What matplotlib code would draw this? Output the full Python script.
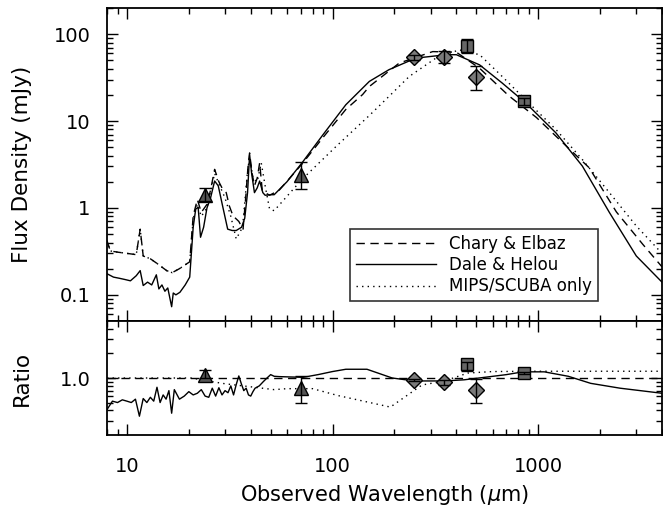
import numpy as np
import matplotlib
matplotlib.use("Agg")
import matplotlib.pyplot as plt
from matplotlib.ticker import FixedLocator, FuncFormatter, LogLocator, NullFormatter

plt.rcParams['font.family'] = ['DejaVu Sans']

# --- model SEDs (flux density, mJy) ---
lam_dh = [8, 8.6, 9.2, 9.8, 10.4, 11.1, 11.6, 12.0, 12.6, 13.2, 13.9, 14.3, 14.8, 15.3, 15.8,
          16.2, 16.5, 16.8, 17.3, 18.1, 19.2, 20.2, 21.0, 21.6, 22.2, 22.8, 23.6, 24.5, 25.5,
          26.7, 27.8, 29.2, 30.9, 32.5, 34, 36.1, 37.4, 38.6, 39.5, 40.4, 41.7, 43, 44.2, 45.8,
          47, 50, 52, 60, 71, 90, 116, 151, 188, 254, 357, 400, 519, 668, 871, 1220, 1640,
          2220, 3000, 4000]
f_dh = [0.175, 0.16, 0.155, 0.15, 0.145, 0.166, 0.19, 0.128, 0.14, 0.13, 0.17, 0.117, 0.13,
        0.11, 0.12, 0.09, 0.073, 0.105, 0.1, 0.107, 0.13, 0.16, 0.6, 0.97, 1.02, 0.46, 0.6,
        1.0, 1.3, 2.04, 1.8, 1.05, 0.57, 0.55, 0.55, 0.6, 0.76, 1.5, 4.1, 2.5, 1.5, 1.7, 2.04,
        1.5, 1.4, 1.42, 1.42, 2.0, 3.3, 7.0, 15.4, 28.6, 39, 53, 58, 58, 44.3, 27.4, 16.1,
        7.3, 3.03, 0.886, 0.28, 0.14]

lam_ce = [8, 8.3, 9, 10, 11.1, 11.6, 12.0, 13, 14, 15.6, 16.6, 18, 20.2, 21, 22, 23, 24.5,
          25.5, 26.7, 28, 29, 30.4, 31.5, 32.8, 35, 36.7, 37.8, 38.8, 39.5, 40.5, 41.7, 43,
          44.2, 45.5, 47, 49.4, 55, 71, 90, 116, 140, 151, 211, 307, 400, 519, 720, 980, 1300,
          1770, 2400, 3230, 4000]
f_ce = [0.42, 0.32, 0.31, 0.3, 0.29, 0.57, 0.28, 0.26, 0.23, 0.19, 0.18, 0.2, 0.24, 0.81,
        1.25, 0.89, 1.1, 1.6, 2.78, 2.0, 1.7, 1.5, 1.05, 0.81, 0.7, 0.57, 1.3, 3.0, 4.3, 2.6,
        1.8, 2.2, 3.3, 1.6, 1.5, 1.4, 1.6, 3.2, 6.5, 13.6, 20.2, 25, 46.5, 63, 62, 40.5, 19.5,
        11.0, 5.8, 2.9, 0.9, 0.38, 0.21]

lam_ms = [8, 8.3, 9, 10, 11.1, 11.6, 12.0, 13, 14, 15.6, 16.6, 18, 20.2, 21, 22, 23, 24.5,
          26.7, 28, 30, 32, 34, 36.5, 38.5, 39.5, 41, 43, 45, 47, 49.4, 52, 71, 104, 151, 188,
          236, 318, 413, 519, 668, 901, 1220, 1640, 2220, 3000, 4000]
f_ms = [0.42, 0.32, 0.31, 0.3, 0.29, 0.57, 0.28, 0.26, 0.23, 0.19, 0.18, 0.2, 0.24, 0.75,
        1.1, 0.8, 1.0, 2.5, 1.9, 1.3, 0.8, 0.44, 0.6, 2.5, 3.9, 2.2, 2.0, 3.3, 1.8, 0.97,
        0.93, 2.13, 5.1, 11.6, 19.2, 32.6, 53, 66, 58, 32.6, 16.1, 8.0, 3.6, 1.5, 0.62, 0.3]

# --- photometry ---
lam_mips = [24, 70]
f_mips = [1.41, 2.39]
lo_mips = [0.21, 0.74]
hi_mips = [0.29, 0.98]

lam_blast = [250, 350, 500]
f_blast = [54, 55, 32.5]
lo_blast = [3, 9, 9.5]
hi_blast = [3, 9, 10.5]

lam_scuba = [450, 850]
f_scuba = [74, 17]
lo_scuba = [13.5, 1.5]
hi_scuba = [14, 1.5]

# --- ratio to Chary & Elbaz ---
lam_rdh = [8, 8.5, 9, 9.5, 10, 10.5, 11, 11.5, 12, 12.5, 13, 13.5, 14, 14.5, 15, 15.5, 16,
           16.5, 17, 18, 19, 20, 21, 22, 23, 24, 25, 26, 27, 28, 29, 30, 31, 32, 33, 34, 35,
           36, 37, 38, 39, 40, 41, 42, 44, 46, 48, 50, 52, 55, 62, 72, 85, 100, 116, 147, 195,
           250, 350, 436, 550, 700, 843, 1070, 1400, 1800, 2500, 4000]
r_dh = [0.41, 0.52, 0.5, 0.54, 0.52, 0.5, 0.55, 0.34, 0.56, 0.5, 0.58, 0.52, 0.77, 0.5, 0.62,
        0.55, 0.7, 0.37, 0.72, 0.55, 0.6, 0.68, 0.62, 0.65, 0.72, 0.6, 0.58, 0.75, 0.6, 0.76,
        0.62, 0.7, 0.66, 0.8, 0.62, 0.83, 1.06, 0.85, 0.7, 0.75, 0.62, 0.6, 0.68, 0.75, 0.8,
        0.9, 1.0, 1.1, 1.05, 1.04, 1.03, 1.02, 1.1, 1.2, 1.28, 1.28, 1.0, 0.92, 0.92, 0.95,
        1.02, 1.1, 1.19, 1.19, 1.05, 0.86, 0.75, 0.65]

lam_rms = [8, 20.7, 24, 30, 40, 52, 60, 80, 106, 191, 272, 350, 455, 600, 1000, 4000]
r_ms = [1.0, 1.0, 0.93, 0.85, 0.78, 0.72, 0.74, 0.74, 0.61, 0.44, 0.82, 0.92, 1.15, 1.2, 1.21, 1.21]

lam_ref = [8, 4000]
r_ref = [1.0, 1.0]

r_mips = [1.1, 0.75]
rlo_mips = [0.1, 0.26]
rhi_mips = [0.15, 0.31]
r_blast = [0.94, 0.89, 0.72]
rlo_blast = [0.03, 0.06, 0.23]
rhi_blast = [0.03, 0.06, 0.26]
r_scuba = [1.48, 1.14]
rlo_scuba = [0.26, 0.03]
rhi_scuba = [0.1, 0.03]

fig = plt.figure(figsize=(6.63, 5.11), dpi=100)
ax1 = fig.add_axes([107/663, 1-321/511, 555/663, 313/511])
ax2 = fig.add_axes([107/663, 1-435/511, 555/663, 114/511], sharex=ax1)

lw = 1.0
dash = (0, (6, 4))
dot = (0, (1, 3))

l1, = ax1.plot(lam_ce, f_ce, color='k', lw=lw, linestyle=dash)
l2, = ax1.plot(lam_dh, f_dh, color='k', lw=lw)
l3, = ax1.plot(lam_ms, f_ms, color='k', lw=lw, linestyle=dot)

def points(ax, x, y, lo, hi, marker, ms, fc):
    ax.plot(x, y, linestyle='none', marker=marker, ms=ms, mfc=fc, mec='k', mew=1.0, zorder=4)
    ax.errorbar(x, y, yerr=[lo, hi], fmt='none', ecolor='k', elinewidth=1.0, capsize=4,
                capthick=1.0, zorder=5)

for ax, ym, yb, ys, em, eb, es in [
        (ax1, f_mips, f_blast, f_scuba, (lo_mips, hi_mips), (lo_blast, hi_blast), (lo_scuba, hi_scuba)),
        (ax2, r_mips, r_blast, r_scuba, (rlo_mips, rhi_mips), (rlo_blast, rhi_blast), (rlo_scuba, rhi_scuba))]:
    points(ax, lam_mips, ym, em[0], em[1], '^', 10, '#555555')
    points(ax, lam_blast, yb, eb[0], eb[1], 'D', 8, '#7a7a7a')
    points(ax, lam_scuba, ys, es[0], es[1], 's', 8, '#666666')

ax2.plot(lam_ref, r_ref, color='k', lw=lw, linestyle=dash)
ax2.plot(lam_rdh, r_dh, color='k', lw=lw)
ax2.plot(lam_rms, r_ms, color='k', lw=lw, linestyle=dot)

for ax in (ax1, ax2):
    ax.set_xscale('log')
    ax.set_yscale('log')
    ax.tick_params(which='both', direction='in', top=True, right=True, labelsize=14, width=1.0)
    ax.tick_params(which='major', length=8)
    ax.tick_params(which='minor', length=4)
    ax.tick_params(axis='y', pad=12)
    for s in ax.spines.values():
        s.set_linewidth(1.3)

ax1.set_xlim(8, 4000)
ax1.set_ylim(0.05, 200)
ax1.yaxis.set_major_locator(FixedLocator([0.1, 1, 10, 100]))
ax1.yaxis.set_major_formatter(FuncFormatter(lambda v, p: '%g' % v))
ax1.yaxis.set_minor_locator(LogLocator(base=10, subs=np.arange(2, 10), numticks=20))
ax1.yaxis.set_minor_formatter(NullFormatter())
plt.setp(ax1.get_xticklabels(which='both'), visible=False)
ax1.set_ylabel('Flux Density (mJy)', fontsize=15.5)

ax2.set_ylim(0.2, 5)
ax2.yaxis.set_major_locator(FixedLocator([1.0]))
ax2.yaxis.set_major_formatter(FuncFormatter(lambda v, p: '%.1f' % v))
ax2.yaxis.set_minor_locator(FixedLocator([0.3, 0.4, 0.5, 0.6, 0.7, 0.8, 0.9, 2, 3, 4]))
ax2.yaxis.set_minor_formatter(NullFormatter())
ax2.xaxis.set_major_locator(FixedLocator([10, 100, 1000]))
ax2.xaxis.set_major_formatter(FuncFormatter(lambda v, p: '%d' % v))
ax2.xaxis.set_minor_locator(LogLocator(base=10, subs=np.arange(2, 10), numticks=20))
ax2.xaxis.set_minor_formatter(NullFormatter())
ax2.tick_params(axis='x', pad=16)
ax2.set_ylabel('Ratio', fontsize=15.5)
ax2.yaxis.set_label_coords(-0.135, 0.5)
ax1.yaxis.set_label_coords(-0.135, 0.5)
ax2.set_xlabel('Observed Wavelength ($\\mu$m)', fontsize=15, labelpad=5)

leg = ax1.legend([l1, l2, l3], ['Chary & Elbaz', 'Dale & Helou', 'MIPS/SCUBA only'],
                 loc='lower right', bbox_to_anchor=(0.884, 0.063), fontsize=12,
                 frameon=True, fancybox=False, handlelength=4.8, handletextpad=0.8,
                 borderpad=0.35, labelspacing=0.2, borderaxespad=0)
leg.get_frame().set_edgecolor('k')
leg.get_frame().set_linewidth(1.2)

fig.savefig('out.png', dpi=100)
